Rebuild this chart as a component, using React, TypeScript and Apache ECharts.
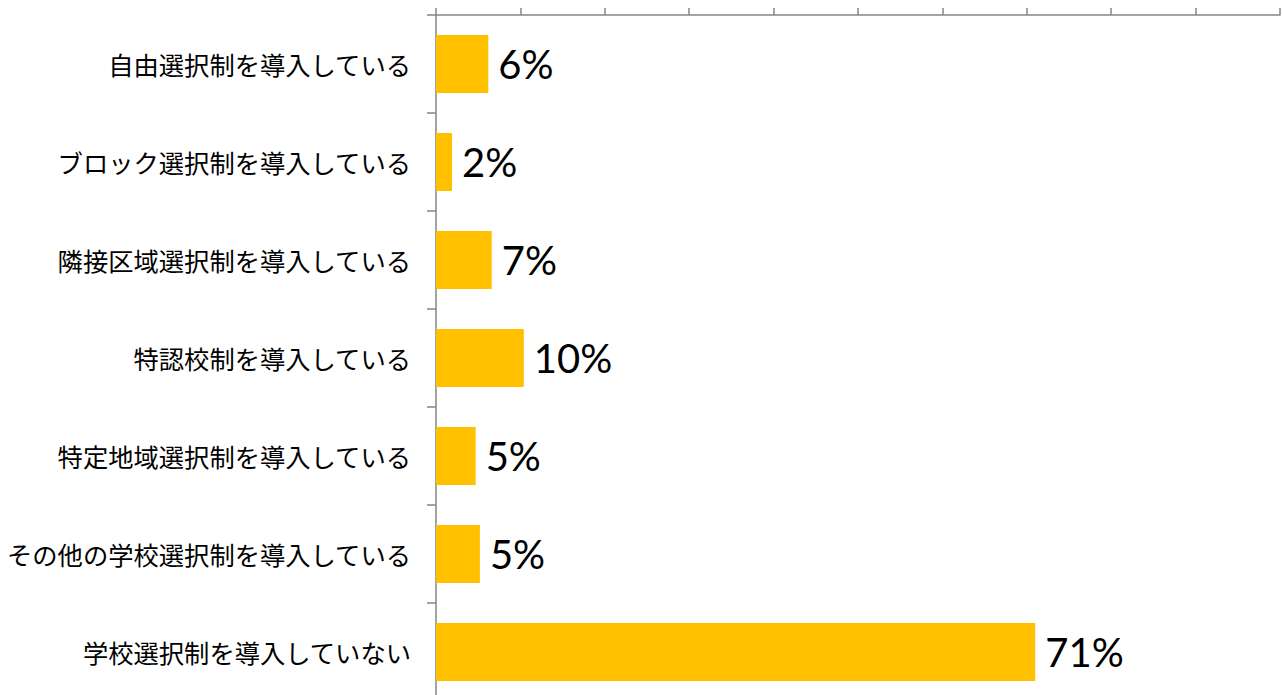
import React, { useEffect, useRef } from "react";
import * as echarts from "echarts";

const categories = [
  "自由選択制を導入している",
  "ブロック選択制を導入している",
  "隣接区域選択制を導入している",
  "特認校制を導入している",
  "特定地域選択制を導入している",
  "その他の学校選択制を導入している",
  "学校選択制を導入していない",
];
const values = [6.2, 1.9, 6.6, 10.4, 4.7, 5.2, 71.0];
const axisMax = 100;
const axisInterval = 10;

export default function App() {
  const ref = useRef<HTMLDivElement>(null);
  useEffect(() => {
    if (!ref.current) return;
    const chart = echarts.init(ref.current, null, { renderer: "svg" });
    chart.setOption({
      animation: false,
      grid: { left: 436, right: 2, top: 15, bottom: 0, containLabel: false },
      xAxis: {
        type: "value",
        position: "top",
        min: 0,
        max: axisMax,
        interval: axisInterval,
        axisLine: { show: true, lineStyle: { color: "#868686", width: 1.5 } },
        axisTick: { show: true, length: 7, lineStyle: { color: "#868686", width: 1.5 } },
        axisLabel: { show: false },
        splitLine: { show: false },
      },
      yAxis: {
        type: "category",
        inverse: true,
        data: categories,
        axisLine: { show: true, lineStyle: { color: "#868686", width: 1.5 } },
        axisTick: { show: true, length: 9, lineStyle: { color: "#868686", width: 1.5 } },
        axisLabel: {
          margin: 25,
          color: "#000",
          fontSize: 25.3,
          fontFamily: "Noto Sans CJK JP",
        },
      },
      series: [
        {
          type: "bar",
          data: values,
          barWidth: 58,
          itemStyle: { color: "#FFC000" },
          label: {
            show: true,
            position: "right",
            distance: 10,
            color: "#000",
            fontSize: 40,
            fontFamily: "Lato",
            formatter: (p: any) => Math.round(p.value) + "%",
          },
        },
      ],
    });
    return () => chart.dispose();
  }, []);
  return (
    <div
      ref={ref}
      style={{ position: "fixed", left: 0, top: 0, width: 1282, height: 701, background: "#fff" }}
    />
  );
}
